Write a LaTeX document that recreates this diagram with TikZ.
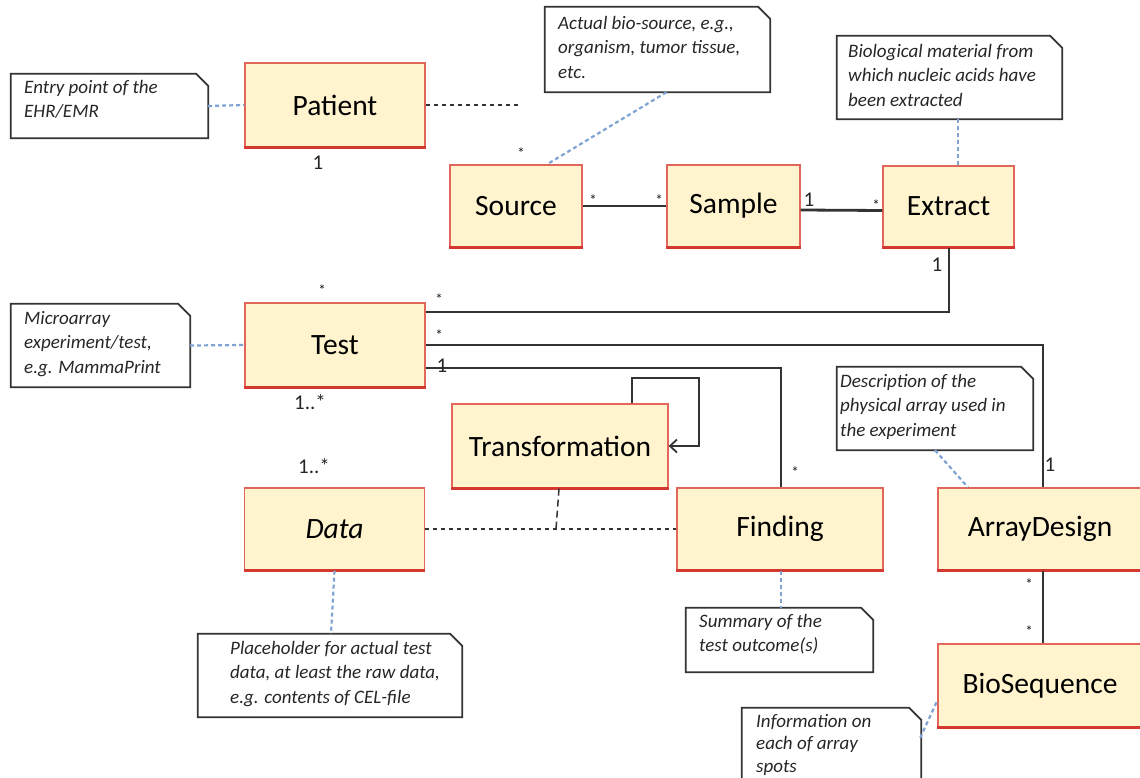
\documentclass[tikz,border=0pt]{standalone}
\usepackage{fontspec}
\setmainfont{Carlito}
\usetikzlibrary{calc,arrows.meta}

\definecolor{clsfill}{HTML}{FFF4CE}
\definecolor{clsedge}{HTML}{E2665A}
\definecolor{clsbase}{HTML}{D3392E}
\definecolor{noteedge}{HTML}{333333}
\definecolor{notelink}{HTML}{7FA3D3}
\definecolor{assoc}{HTML}{333333}

% class box with a heavier bottom edge
\newcommand{\classbase}[1]{\draw[clsbase, line width=2.6pt] (#1.south west) -- (#1.south east);}
% note outline with a folded top-right corner
\newcommand{\dogear}[1]{\draw[noteline] (#1.north west) -- ($(#1.north east)+(-12,0)$) -- ($(#1.north east)+(0,12)$) -- (#1.south east) -- (#1.south west) -- cycle;}

\begin{document}
\begin{tikzpicture}[x=1pt, y=-1pt,
  cls/.style={draw=clsedge, fill=clsfill, line width=1.3pt, inner sep=0pt,
    font=\fontsize{29.5}{31}\selectfont},
  notebox/.style={draw=none, inner sep=0pt},
  noteline/.style={draw=noteedge, line width=1.8pt, line join=miter},
  notetext/.style={anchor=north west, inner sep=0pt, align=left,
    font=\fontsize{19}{24.5}\selectfont\itshape, text=black!85,
    execute at begin node=\strut},
  notelinkline/.style={draw=notelink, line width=2.2pt, dash pattern=on 4pt off 3pt},
  assocline/.style={draw=assoc, line width=2pt},
  dottedline/.style={draw=assoc, line width=1.6pt, dash pattern=on 4pt off 4pt},
  mult/.style={inner sep=0pt, font=\fontsize{21}{23}\selectfont, text=black!85},
  star/.style={inner sep=0pt, font=\fontsize{15}{17}\selectfont, text=black!90},
]
\useasboundingbox (0,0) rectangle (1140,778);

% ---------- classes ----------
\node[cls, minimum width=180, minimum height=84] (patient) at (335,105) {Patient};
\node[cls, minimum width=132, minimum height=82] (source) at (516,206) {Source};
\node[cls, minimum width=133, minimum height=82] (sample) at (733.5,206) {Sample};
\node[cls, minimum width=131, minimum height=81] (extract) at (948.5,206.5) {Extract};
\node[cls, minimum width=180, minimum height=84] (test) at (335,345) {Test};
\node[cls, minimum width=216, minimum height=84] (transf) at (560,446) {Transformation};
\node[cls, minimum width=180, minimum height=82] (data) at (334.5,529) {\itshape Data};
\node[cls, minimum width=206, minimum height=82] (finding) at (780,529) {Finding};
\node[cls, minimum width=204, minimum height=82] (arraydesign) at (1040,529) {ArrayDesign};
\node[cls, minimum width=204, minimum height=83] (bioseq) at (1040,685.5) {BioSequence};
\foreach \c in {patient,source,sample,extract,test,transf,data,finding,arraydesign,bioseq}{\classbase{\c}}

% ---------- notes ----------
\node[notebox, minimum width=197, minimum height=64] (n1) at (109.5,106) {};
\node[notebox, minimum width=225, minimum height=85] (n2) at (657.5,49.5) {};
\node[notebox, minimum width=225, minimum height=83] (n3) at (949.5,77.5) {};
\node[notebox, minimum width=179, minimum height=83] (n4) at (100.5,345.5) {};
\node[notebox, minimum width=196, minimum height=83] (n5) at (935,408.5) {};
\node[notebox, minimum width=264, minimum height=83] (n6) at (330,675.5) {};
\node[notebox, minimum width=187, minimum height=64] (n7) at (779.5,640) {};
\node[notebox, minimum width=179, minimum height=92] (n8) at (831.5,754) {};
\foreach \n in {n1,n2,n3,n4,n5,n6,n7,n8}{\dogear{\n}}

\node[notetext] (t1) at (24,80) {Entry point of the\\EHR/EMR};
\node[notetext] (t2) at (558,16) {Actual bio-source, e.g.,\\organism, tumor tissue,\\etc.};
\node[notetext] (t3) at (848,44) {Biological material from\\which nucleic acids have\\been extracted};
\node[notetext] (t4) at (24,311) {Microarray\\experiment/test,\\e.g. MammaPrint};
\node[notetext] (t5) at (840,374) {Description of the\\physical array used in\\the experiment};
\node[notetext] (t6) at (230,641) {Placeholder for actual test\\data, at least the raw data,\\e.g. contents of CEL-file};
\node[notetext] (t7) at (699,614) {Summary of the\\test outcome(s)};
\node[notetext, font=\fontsize{19}{22.5}\selectfont\itshape] (t8) at (756,714) {Information on\\each of array\\spots};

% ---------- note links ----------
\draw[notelinkline] (n1.east) -- (patient.west);
\draw[notelinkline] ($(n2.south)+(9,0)$) -- ($(source.north)+(31,0)$);
\draw[notelinkline] ($(n3.south)+(8.5,0)$) -- ($(extract.north)+(9.5,0)$);
\draw[notelinkline] (n4.east) -- (test.west);
\draw[notelinkline] (n5.south) -- ($(arraydesign.north)+(-72,0)$);
\draw[notelinkline] (data.south) -- ($(n6.north)+(1,0)$);
\draw[notelinkline] ($(finding.south)+(1,0)$) -- ($(n7.north)+(1.5,0)$);
\coordinate (n8link) at ($(n8.north east)+(-1,30)$);
\draw[notelinkline] (n8link) -- ($(bioseq.west)+(0,15)$);

% ---------- associations ----------
\coordinate (patientend) at (518,105);
\draw[dottedline] (patient.east) -- (patientend);

\draw[assocline, line width=2.8pt] (source.east) -- (sample.west);
\draw[assocline, line width=2.8pt] ($(sample.east)+(0,4)$) -- ($(extract.west)+(0,4)$);
\draw[assocline] (extract.south) |- ($(test.north east)+(0,10)$);
\draw[assocline] (test.east) -| ($(arraydesign.north)+(3,0)$);
\draw[assocline] ($(test.south east)+(0,-20)$) -| ($(finding.north)+(1,0)$);
\draw[assocline] ($(arraydesign.south)+(3,0)$) -- ($(bioseq.north)+(3,0)$);

% self association on Transformation
\draw[assocline, -{Straight Barb[length=7pt, width=13pt, line width=1.8pt]}]
  ($(transf.north east)+(-37,0)$) -- ++(0,-25) -| ($(transf.east)+(30,0)$) -- (transf.east);

% association class link between Data and Finding
\coordinate (aclink) at (556,529);
\draw[dottedline, line width=1.5pt] (data.east) -- (finding.west);
\draw[dottedline, line width=1.5pt, dash pattern=on 7pt off 4pt] ($(transf.south)+(-1,0)$) -- (aclink);

% ---------- multiplicities ----------
\node[mult] (m1) at (318,163) {1};
\node[star] (m2) at (322,290) {*};
\node[star] (m3) at (521,153) {*};
\node[star] (m4) at (593,200) {*};
\node[star] (m5) at (659,200) {*};
\node[mult] (m6) at (809,200) {1};
\node[star] (m7) at (876,205) {*};
\node[mult] (m8) at (937,265) {1};
\node[star] (m9) at (439,299) {*};
\node[star] (m10) at (439,335) {*};
\node[mult] (m11) at (442,366) {1};
\node[mult] (m12) at (1050,465) {1};
\node[star] (m13) at (795,472) {*};
\node[mult] (m14) at (310,402) {1..*};
\node[mult] (m15) at (314,466) {1..*};
\node[star] (m16) at (1029,584) {*};
\node[star] (m17) at (1029,631) {*};
\end{tikzpicture}
\end{document}
